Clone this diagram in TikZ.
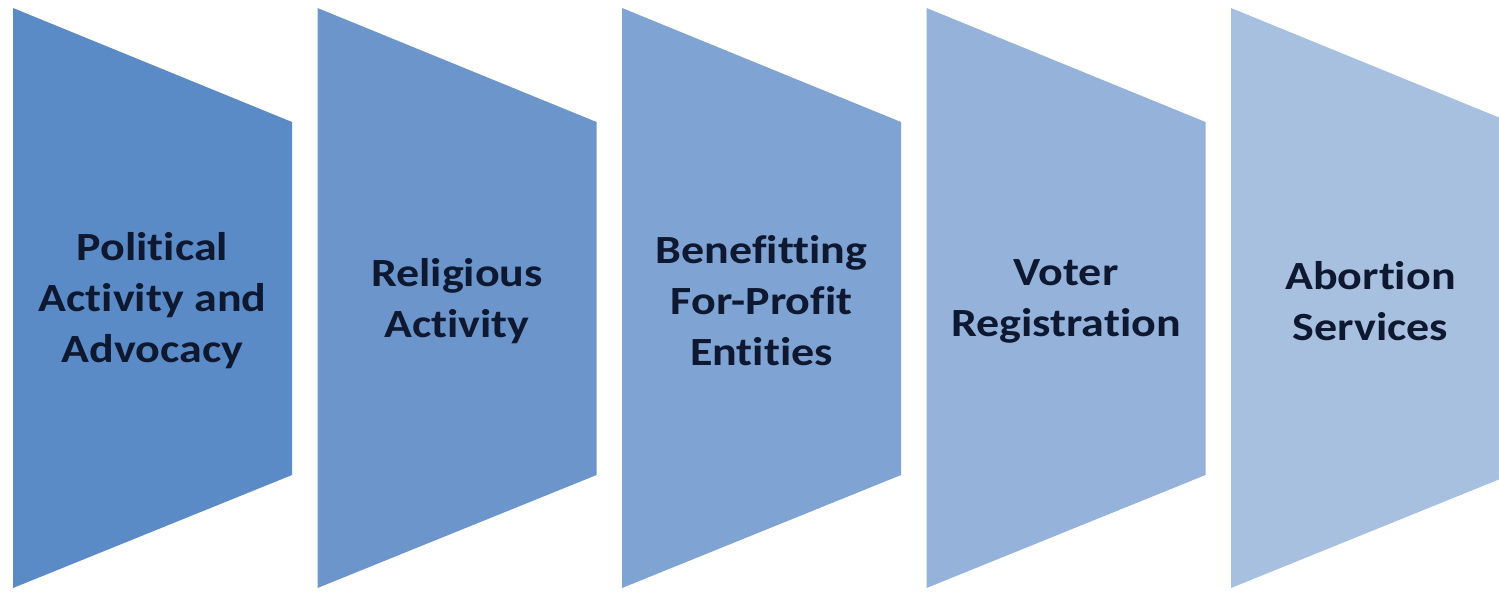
\documentclass[tikz,border=0pt]{standalone}
\usepackage{fontspec}
\setmainfont{Carlito}[Ligatures=NoCommon, FakeStretch=1.15]
\usepackage{tikz}
\usetikzlibrary{positioning, calc}

\definecolor{panelA}{HTML}{5B8BC7}
\definecolor{panelB}{HTML}{6C96CB}
\definecolor{panelC}{HTML}{7FA3D3}
\definecolor{panelD}{HTML}{94B2DA}
\definecolor{panelE}{HTML}{A8C0E0}
\definecolor{labelink}{HTML}{0E1830}

\begin{document}
\begin{tikzpicture}[x=1pt, y=-1pt,
    lab/.style={align=center, text=labelink, inner sep=0pt,
                font=\fontsize{40}{51}\selectfont\bfseries}]
  \useasboundingbox (0,0) rectangle (1499,592);
  \clip (0,0) rectangle (1499,592);
  % panels
  \foreach \i/\col/\txt in {0/panelA/{Political\\Activity and\\Advocacy},
                            1/panelB/{Religious\\Activity},
                            2/panelC/{Benefitting\\For-Profit\\Entities},
                            3/panelD/{Voter\\Registration},
                            4/panelE/{Abortion\\Services}}{
    \pgfmathsetmacro{\xl}{13+304.5*\i}
    \pgfmathsetmacro{\xr}{\xl+279}
    \fill[\col] (\xl,8) -- (\xr,122) -- (\xr,475) -- (\xl,588) -- cycle;
    \node[lab] (panel\i) at ({(\xl+\xr)/2},301) {\txt};
  }
\end{tikzpicture}
\end{document}
